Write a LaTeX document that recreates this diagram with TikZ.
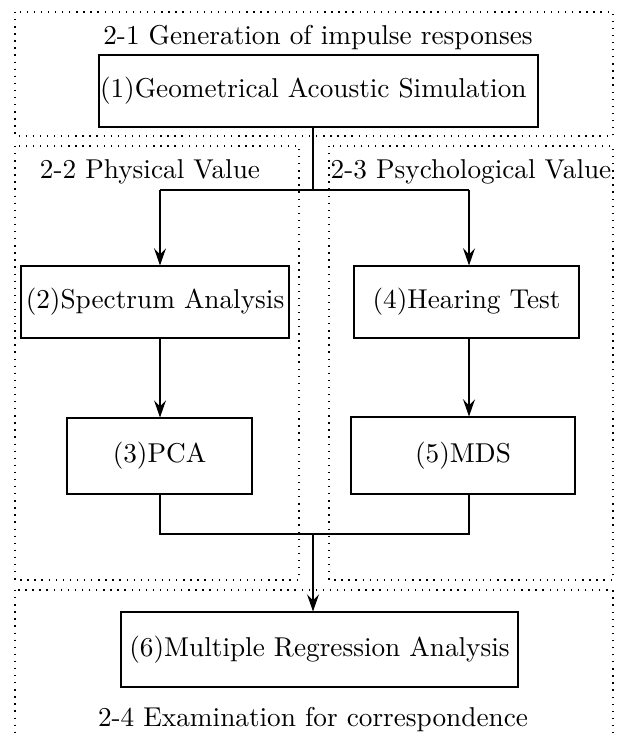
\documentclass[tikz,border=0pt]{standalone}
\usetikzlibrary{arrows.meta}
\begin{document}
\begin{tikzpicture}[x=0.367pt, y=-0.367pt,
  bx/.style={draw, inner sep=0pt},
  grp/.style={line width=0.5pt, dash pattern=on 0.5pt off 2.1pt},
  lbl/.style={inner sep=0pt},
  arr/.style={-{Stealth[length=6.3pt, width=4.4pt, inset=2.2pt]}}]
\useasboundingbox (0,0) rectangle (617,734);
\clip (0,0) rectangle (617,734);
% groups
\draw[grp] (15,12) rectangle (613,136);
\draw[grp] (15,146) rectangle (299,580);
\draw[grp] (329,146) rectangle (613,580);
\draw[grp] (15,590) rectangle (613,770);
% labels
\node[lbl] (g1) at (318,38) {2-1 Generation of impulse responses};
\node[lbl] (g2) at (150,172) {2-2 Physical Value};
\node[lbl] (g3) at (471,172) {2-3 Psychological Value};
\node[lbl] (g4) at (313,720) {2-4 Examination for correspondence};
% nodes
\node[bx, text width={437*0.367pt}, inner xsep={1*0.367pt}, align=left, minimum height={72*0.367pt}] (n1) at (318.5,91) {(1)Geometrical Acoustic Simulation};
\node[bx, minimum width={268*0.367pt}, minimum height={72*0.367pt}] (n2) at (155,302) {(2)Spectrum Analysis};
\node[bx, minimum width={225*0.367pt}, minimum height={72*0.367pt}] (n4) at (466.5,302) {(4)Hearing Test};
\node[bx, minimum width={185*0.367pt}, minimum height={76*0.367pt}] (n3) at (159.5,456) {(3)PCA};
\node[bx, minimum width={224*0.367pt}, minimum height={77*0.367pt}] (n5) at (463,455.5) {(5)MDS};
\node[bx, minimum width={397*0.367pt}, minimum height={75*0.367pt}] (n6) at (319.5,649.5) {(6)Multiple Regression Analysis};
% connectors
\coordinate (t) at (313,190);
\coordinate (tl) at (160,190);
\coordinate (tr) at (469,190);
\coordinate (b) at (313,534);
\coordinate (bl) at (160,534);
\coordinate (br) at (469,534);
\draw (t |- n1.south) -- (t);
\draw (tl) -- (tr);
\draw[arr] (tl) -- (tl |- n2.north);
\draw[arr] (tr) -- (tr |- n4.north);
\draw[arr] (tl |- n2.south) -- (tl |- n3.north);
\draw[arr] (tr |- n4.south) -- (tr |- n5.north);
\draw (tl |- n3.south) -- (bl) -- (br) -- (tr |- n5.south);
\draw[arr] (b) -- (b |- n6.north);
\end{tikzpicture}
\end{document}
